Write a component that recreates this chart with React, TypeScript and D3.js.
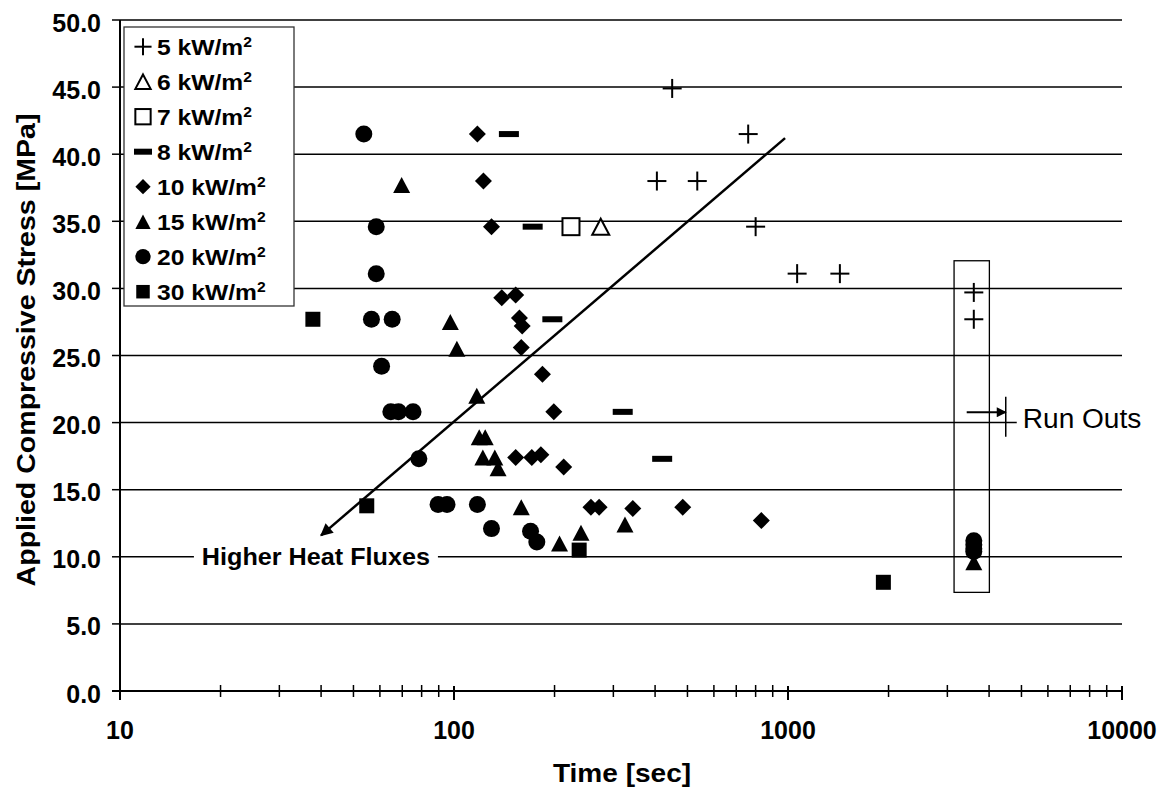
import React from "react";
import * as d3 from "d3";

// ---------- data ----------
const seriesNames = ["5 kW/m", "6 kW/m", "7 kW/m", "8 kW/m", "10 kW/m", "15 kW/m", "20 kW/m", "30 kW/m"];
const seriesMarkers = ["plus", "openTri", "openSq", "dash", "diamond", "tri", "circle", "square"];

const flux5: [number, number][] = [[450, 44.9], [760, 41.5], [405, 38.0], [535, 38.0], [800, 34.6], [1065, 31.1], [1430, 31.1], [3600, 29.7], [3600, 27.7]];
const flux6: [number, number][] = [[275, 34.6]];
const flux7: [number, number][] = [[224, 34.6]];
const flux8: [number, number][] = [[146, 41.5], [172, 34.6], [197, 27.7], [320, 20.8], [420, 17.3]];
const flux10: [number, number][] = [[117.5, 41.5], [122.5, 38.0], [129.5, 34.6], [139, 29.3], [153, 29.5], [157, 27.8], [160, 27.2], [159, 25.6], [184, 23.6], [199, 20.8], [153, 17.4], [171, 17.4], [182, 17.6], [213, 16.7], [257, 13.7], [272, 13.7], [343, 13.6], [484, 13.7], [832, 12.7]];
const flux15: [number, number][] = [[69.7, 37.7], [97.5, 27.5], [102, 25.5], [117, 22.0], [119, 18.9], [124, 18.9], [122, 17.4], [132.5, 17.4], [135.5, 16.6], [159, 13.7], [207, 11.0], [240, 11.8], [325, 12.4], [3600, 9.6]];
const flux20: [number, number][] = [[53.7, 41.5], [58.5, 34.6], [58.5, 31.1], [56.6, 27.7], [65.3, 27.7], [60.7, 24.2], [64.7, 20.8], [68.2, 20.8], [75.4, 20.8], [78.5, 17.3], [89.6, 13.9], [95.3, 13.9], [117.5, 13.9], [129.5, 12.1], [169.5, 11.9], [177, 11.1], [3600, 11.2], [3600, 10.9], [3600, 10.6], [3600, 10.4]];
const flux30: [number, number][] = [[37.8, 27.7], [54.8, 13.8], [237, 10.5], [1930, 8.1]];
const allSeries = [flux5, flux6, flux7, flux8, flux10, flux15, flux20, flux30];

const yTicks = [0, 5, 10, 15, 20, 25, 30, 35, 40, 45, 50];
const xTickLabels = [10, 100, 1000, 10000];

// annotations (data coordinates)
const trendLine: [number, number][] = [[980, 41.2], [40, 11.6]];
const heatLabel = { t: 38.6, v: 10, text: "Higher Heat Fluxes" };
const runOutBox = { t0: 3142, t1: 4008, v0: 7.35, v1: 32.06 };
const runOutArrow = { t0: 3428, t1: 4487, v: 20.77, vTop: 21.93, vBot: 18.95 };
const runOutLabel = { t: 5045, v: 20, text: "Run Outs" };

const FONT = "'Liberation Sans', Arial, Helvetica, sans-serif";

function Marker({ type, x, y, k = 1 }: { type: string; x: number; y: number; k?: number }) {
  switch (type) {
    case "plus": {
      const h = 9.5 * k;
      return (
        <g stroke="#000" strokeWidth={2}>
          <line x1={x - h} x2={x + h} y1={y} y2={y} />
          <line x1={x} x2={x} y1={y - h} y2={y + h} />
        </g>
      );
    }
    case "openTri": {
      const w = 8.5 * k, h = 8 * k;
      return <polygon points={`${x},${y - h} ${x + w},${y + h} ${x - w},${y + h}`} fill="#fff" stroke="#000" strokeWidth={2} />;
    }
    case "openSq": {
      const s = 8.5 * k;
      return <rect x={x - s} y={y - s} width={2 * s} height={2 * s} fill="#fff" stroke="#000" strokeWidth={2} />;
    }
    case "dash": {
      return <rect x={x - 10 * k} y={y - 3} width={20 * k} height={6} fill="#000" />;
    }
    case "diamond": {
      const s = 8.5 * k;
      return <polygon points={`${x},${y - s} ${x + s},${y} ${x},${y + s} ${x - s},${y}`} fill="#000" />;
    }
    case "tri": {
      const w = 8.5 * k, h = 8 * k;
      return <polygon points={`${x},${y - h} ${x + w},${y + h} ${x - w},${y + h}`} fill="#000" />;
    }
    case "circle":
      return <circle cx={x} cy={y} r={8.5 * k} fill="#000" />;
    case "square": {
      const s = 7.5 * k;
      return <rect x={x - s} y={y - s} width={2 * s} height={2 * s} fill="#000" />;
    }
  }
  return null;
}

function T({ x, y, size, sx = 1, weight = "bold", anchor = "start", rotate = 0, children }: any) {
  return (
    <text
      transform={`translate(${x},${y})${rotate ? ` rotate(${rotate})` : ""} scale(${sx},1)`}
      fontFamily={FONT}
      fontSize={size}
      fontWeight={weight}
      textAnchor={anchor}
      fill="#000"
    >
      {children}
    </text>
  );
}

export default function App() {
  const W = 1164, H = 795;
  const xs = d3.scaleLog().domain([10, 10000]).range([120, 1122]);
  const ys = d3.scaleLinear().domain([0, 50]).range([691, 20]);
  const minorTicks = xs.ticks();
  const line = d3.line<[number, number]>().x((d) => xs(d[0])).y((d) => ys(d[1]));

  const legendX = 124, legendY = 27, legendW = 170, legendH = 279;
  const rowStep = 35, row0 = 46.7;

  return (
    <svg width={W} height={H} style={{ position: "absolute", left: 0, top: 0, background: "#fff" }}>
      <defs>
        <marker id="arrowHead" viewBox="0 0 10 10" refX="9" refY="5" markerWidth="5.5" markerHeight="5" markerUnits="strokeWidth" orient="auto-start-reverse">
          <path d="M0,0 L10,5 L0,10 Z" fill="#000" />
        </marker>
        <marker id="arrowSmall" viewBox="0 0 10 10" refX="9" refY="5" markerWidth="6" markerHeight="5" markerUnits="strokeWidth" orient="auto">
          <path d="M0,0 L10,5 L0,10 Z" fill="#000" />
        </marker>
      </defs>
      <rect x={0} y={0} width={W} height={H} fill="#fff" />

      {/* gridlines */}
      {yTicks.filter((v) => v > 0).map((v) => (
        <line key={v} x1={xs(10)} x2={xs(10000)} y1={ys(v)} y2={ys(v)} stroke="#000" strokeWidth={1.5} />
      ))}

      {/* run-out box */}
      <rect
        x={xs(runOutBox.t0)}
        y={ys(runOutBox.v1)}
        width={xs(runOutBox.t1) - xs(runOutBox.t0)}
        height={ys(runOutBox.v0) - ys(runOutBox.v1)}
        fill="none"
        stroke="#000"
        strokeWidth={1.3}
      />

      {/* trend line with arrow */}
      <path d={line(trendLine) || ""} fill="none" stroke="#000" strokeWidth={2.5} markerEnd="url(#arrowHead)" />

      {/* heat flux label */}
      <rect x={xs(heatLabel.t) - 122} y={ys(heatLabel.v) - 14} width={244} height={28} fill="#fff" />
      <T x={xs(heatLabel.t)} y={ys(heatLabel.v) + 8.5} size={24} sx={1.05} anchor="middle">
        {heatLabel.text}
      </T>

      {/* data points */}
      {allSeries.map((s, i) => (
        <g key={i}>
          {s.map((d, j) => (
            <Marker key={j} type={seriesMarkers[i]} x={xs(d[0])} y={ys(d[1])} />
          ))}
        </g>
      ))}

      {/* run outs annotation */}
      <line x1={xs(runOutArrow.t0)} x2={xs(runOutArrow.t1)} y1={ys(runOutArrow.v)} y2={ys(runOutArrow.v)} stroke="#000" strokeWidth={2} markerEnd="url(#arrowSmall)" />
      <line x1={xs(runOutArrow.t1)} x2={xs(runOutArrow.t1)} y1={ys(runOutArrow.vTop)} y2={ys(runOutArrow.vBot)} stroke="#000" strokeWidth={1.5} />
      <rect x={xs(runOutLabel.t) - 6} y={ys(runOutLabel.v) - 18} width={140} height={34} fill="#fff" />
      <T x={xs(runOutLabel.t)} y={ys(runOutLabel.v) + 5} size={27} sx={1.04} weight="normal">
        {runOutLabel.text}
      </T>

      {/* legend */}
      <rect x={legendX} y={legendY} width={legendW} height={legendH} fill="#fff" stroke="#333" strokeWidth={1.3} />
      {seriesNames.map((name, i) => {
        const cy = row0 + i * rowStep;
        return (
          <g key={name}>
            <Marker type={seriesMarkers[i]} x={143} y={cy} k={0.9} />
            <T x={157} y={cy + 8} size={22} sx={1.12}>
              {name}
              <tspan fontSize={14} dy={-7.5}>2</tspan>
            </T>
          </g>
        );
      })}

      {/* y axis */}
      <line x1={120} x2={120} y1={ys(50)} y2={699} stroke="#000" strokeWidth={2} />
      {yTicks.map((v) => (
        <g key={v}>
          <line x1={112} x2={120} y1={ys(v)} y2={ys(v)} stroke="#000" strokeWidth={1.5} />
          <T x={101} y={ys(v) + 11.5} size={25} sx={1.0} anchor="end">
            {d3.format(".1f")(v)}
          </T>
        </g>
      ))}

      {/* x axis */}
      <line x1={112} x2={xs(10000)} y1={ys(0)} y2={ys(0)} stroke="#000" strokeWidth={2} />
      {minorTicks.map((t, i) => {
        const major = xTickLabels.includes(t);
        return (
          <line
            key={i}
            x1={xs(t)}
            x2={xs(t)}
            y1={major ? 686 : 685}
            y2={major ? 700 : 697}
            stroke="#000"
            strokeWidth={major ? 2 : 1.5}
          />
        );
      })}
      {xTickLabels.map((t) => (
        <T key={t} x={xs(t)} y={739} size={25} sx={1.0} anchor="middle">
          {String(t)}
        </T>
      ))}

      {/* axis titles */}
      <T x={622} y={782} size={25.5} sx={1.1} anchor="middle">
        Time [sec]
      </T>
      <T x={35} y={350} size={25.5} sx={1.12} anchor="middle" rotate={-90}>
        Applied Compressive Stress [MPa]
      </T>
    </svg>
  );
}
